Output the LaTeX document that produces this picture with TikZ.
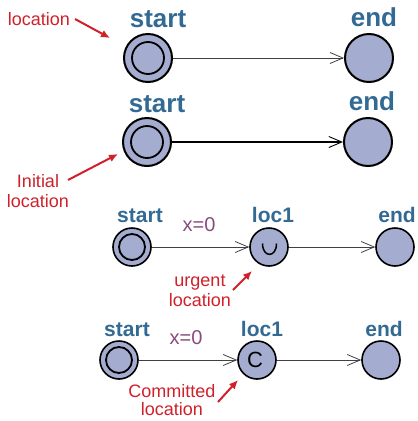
\documentclass[tikz,border=0pt]{standalone}
\usepackage{fontspec}
\setmainfont{Liberation Sans}
\usetikzlibrary{arrows.meta}
\definecolor{locfill}{HTML}{A4ACCF}
\definecolor{lblblue}{HTML}{336A94}
\definecolor{annred}{HTML}{D0202A}
\definecolor{asgn}{HTML}{8A4A80}
\begin{document}
\begin{tikzpicture}[x=1pt,y=-1pt,
  loc/.style={circle, draw=black, fill=locfill, line width=2pt, minimum size=48pt, inner sep=0pt},
  locs/.style={loc, line width=1.6pt, minimum size=38pt},
  init/.style={path picture={\draw[line width=1.8pt] (path picture bounding box.center) circle (#1);}},
  lbl/.style={text=lblblue, font=\bfseries\fontsize{26}{26}\selectfont, anchor=base, inner sep=0pt},
  lbls/.style={lbl, font=\bfseries\fontsize{21}{21}\selectfont},
  asg/.style={text=asgn, font=\fontsize{20}{20}\selectfont, anchor=base, inner sep=0pt},
  ann/.style={text=annred, font=\fontsize{18}{20}\selectfont, align=center, inner sep=0pt},
  annarrow/.style={draw=annred, line width=2pt, -{Latex[length=9pt,width=8pt]}},
  trans/.style={draw=black!75, line width=0.8pt, -{Straight Barb[length=13pt,width=11pt,line width=0.8pt]}},
  transb/.style={draw=black, line width=1.8pt, -{Straight Barb[length=13pt,width=11pt,line width=0.9pt]}}
]
\useasboundingbox (0,0) rectangle (418,421);
% Row 1
\node[loc, init=16pt] (s1) at (148,58) {};
\node[loc] (e1) at (369,58) {};
\node[lbl] (s1l) at (158,27) {start};
\node[lbl] (e1l) at (374,26) {end};
\draw[trans] (s1) -- (e1);
\node[ann, anchor=base] (la) at (39,25) {location};
\coordinate (a1) at (110,38);
\coordinate (a1s) at (75,19);
\draw[annarrow] (a1s) -- (a1);
% Row 2
\node[loc, init=16pt] (s2) at (147,142) {};
\node[loc] (e2) at (368,142) {};
\node[lbl] (s2l) at (157,112) {start};
\node[lbl] (e2l) at (372,110) {end};
\draw[transb] (s2) -- (e2);
\node[ann] (lb) at (38,191) {Initial\\location};
\coordinate (a2s) at (68,180);
\coordinate (a2) at (118,154);
\draw[annarrow] (a2s) -- (a2);
% Row 3
\node[locs, init=13pt] (s3) at (132,247) {};
\node[locs] (l3) at (269,247) {};
\node[locs] (e3) at (395,247) {};
\node[lbls] (s3l) at (140,222) {start};
\node[lbls] (l3l) at (273,222) {loc1};
\node[lbls] (e3l) at (397,222) {end};
\node[asg] (g3) at (199,231) {x=0};
\draw[line width=1.5pt] (262.5,243.5) .. controls (262.5,258) and (276.5,258) .. (276.5,243.5);
\draw[trans] (s3) -- (l3);
\draw[trans] (l3) -- (e3);
\node[ann] (lc) at (200,291) {urgent\\location};
\coordinate (a3s) at (233,290);
\coordinate (a3) at (252,271);
\draw[annarrow] (a3s) -- (a3);
% Row 4
\node[locs, font=\fontsize{22}{22}\selectfont] (l4) at (257,360) {\hspace*{-4pt}C};
\node[locs, init=13pt] (s4) at (119,360) {};
\node[locs] (e4) at (381,360) {};
\node[lbls] (s4l) at (127,336) {start};
\node[lbls] (l4l) at (262,336) {loc1};
\node[lbls] (e4l) at (384,336) {end};
\node[asg] (g4) at (186,344) {x=0};
\draw[trans] (s4) -- (l4);
\draw[trans] (l4) -- (e4);
\node[ann, font=\fontsize{18}{18}\selectfont] (ld) at (172,400) {Committed\\location};
\coordinate (a4s) at (218,402);
\coordinate (a4) at (238,380);
\draw[annarrow] (a4s) -- (a4);
\end{tikzpicture}
\end{document}
